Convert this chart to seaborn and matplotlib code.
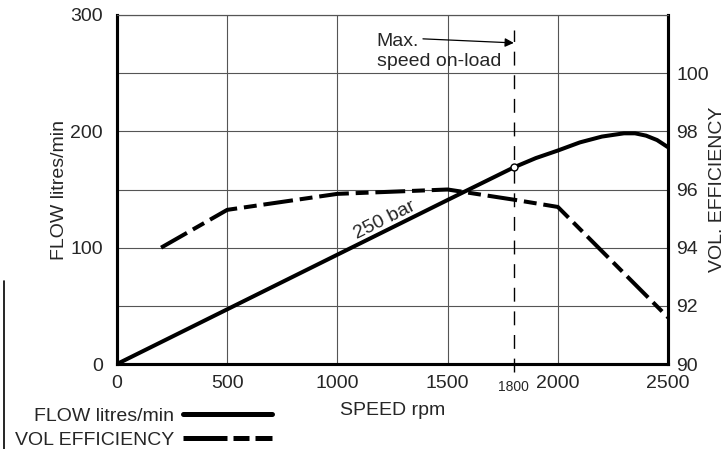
import numpy as np
import pandas as pd
import matplotlib
matplotlib.use("Agg")
import matplotlib.pyplot as plt
from matplotlib.lines import Line2D
import seaborn as sns

# values
speed_flow = [0, 500, 1000, 1500, 1800, 1900, 2000, 2100, 2200, 2300, 2350, 2400, 2450, 2500]
flow = [0, 47, 94, 141, 169, 177, 183.5, 190.5, 195.5, 198.3, 198.3, 196.3, 192.5, 186.3]

speed_eff = [200, 500, 1000, 1500, 1800, 2000, 2500]
efficiency = [94.0, 95.3, 95.85, 96.0, 95.65, 95.4, 91.6]

x_ticks = [0, 500, 1000, 1500, 2000, 2500]
flow_ticks = [0, 100, 200, 300]
eff_ticks = [90, 92, 94, 96, 98, 100]

sns.set_style("white")
plt.rcParams['font.family'] = ['Liberation Sans', 'DejaVu Sans']
FS = 14

fig = plt.figure(figsize=(7.28, 4.49), dpi=100)
ax = fig.add_axes([0.1607, 0.1893, 0.757, 0.7773])

df_flow = pd.DataFrame({"speed": speed_flow, "flow": flow})
df_eff = pd.DataFrame({"speed": speed_eff, "eff": efficiency})

# grid
for gx in range(0, 2501, 500):
    ax.axvline(gx, color="#555555", lw=0.8, zorder=0)
for gy in range(0, 301, 50):
    ax.axhline(gy, color="#555555", lw=0.8, zorder=0)

sns.lineplot(data=df_flow, x="speed", y="flow", ax=ax, color="black", lw=2.9,
             solid_capstyle="butt", zorder=3)
ax.set_xlim(0, 2500)
ax.set_ylim(0, 300)
ax.set_xticks(x_ticks)
ax.set_yticks(flow_ticks)
ax.tick_params(axis="x", labelsize=FS, length=0, pad=8)
ax.tick_params(axis="y", labelsize=FS, length=0, pad=10)
ax.set_xlabel("SPEED rpm", fontsize=FS, labelpad=7)
ax.set_ylabel("FLOW litres/min", fontsize=FS, labelpad=2)

ax2 = ax.twinx()
sns.lineplot(data=df_eff, x="speed", y="eff", ax=ax2, color="black", lw=2.9, zorder=3)
ax2.lines[0].set_dashes((7.4, 1.7, 3.2, 1.7))
ax2.set_ylim(90, 102)
ax2.set_yticks(eff_ticks)
ax2.tick_params(axis="y", labelsize=FS, length=0, pad=6)
ax2.set_ylabel("VOL. EFFICIENCY", fontsize=FS, labelpad=0)
ax2.set_xlabel("")

for a in (ax, ax2):
    for side in ("left", "bottom", "right"):
        a.spines[side].set_linewidth(2.2)
        a.spines[side].set_color("black")
    a.spines["top"].set_linewidth(0.8)
    a.spines["top"].set_color("#555555")

# max speed marker
ax.plot([1800, 1800], [-7, 287], color="black", lw=1.0, dashes=(10, 7), zorder=2,
        clip_on=False)
ax.plot([1800], [169], marker="o", ms=5, mfc="white", mec="black", mew=1, zorder=5)
ax.text(1800, -0.0775, "1800", fontsize=10, ha="center", va="baseline",
        transform=ax.get_xaxis_transform())
ax.annotate("", xy=(1800, 276), xytext=(1388, 279.5),
            arrowprops=dict(arrowstyle="-|>", color="black", lw=0.9, mutation_scale=13,
                            shrinkA=0, shrinkB=0))
ax.text(1178, 277, "Max.", fontsize=FS, ha="left", va="center")
ax.text(1178, 260, "speed on-load", fontsize=FS, ha="left", va="center")
ax.text(1215, 124, "250 bar", fontsize=FS, rotation=26.5, ha="center", va="center")

# legend
handles = [Line2D([0], [0], color="black", lw=3.6, solid_capstyle="round"),
           Line2D([0], [0], color="black", lw=3.6, dashes=(8.8, 1.2, 3.2, 1.2, 4, 10))]
fig.legend(handles, ["FLOW litres/min", "VOL EFFICIENCY"], loc="center right",
           bbox_to_anchor=(0.3736, 0.0468), frameon=False, markerfirst=False,
           fontsize=FS, handlelength=4.6, handletextpad=0.45, labelspacing=0.3,
           borderaxespad=0, borderpad=0)
fig.add_artist(Line2D([0.005, 0.005], [0, 0.375], color="black", lw=1.2,
                      transform=fig.transFigure))

fig.savefig("out.png", dpi=100)
